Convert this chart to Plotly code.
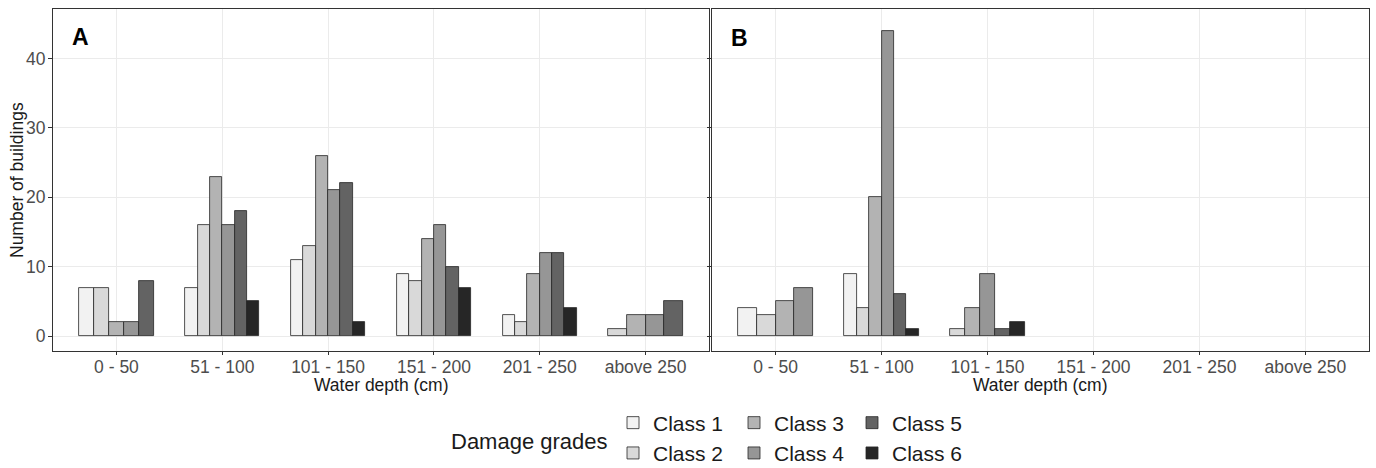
import plotly.graph_objects as go

categories = ["0 - 50", "51 - 100", "101 - 150", "151 - 200", "201 - 250", "above 250"]
classes = ["Class 1", "Class 2", "Class 3", "Class 4", "Class 5", "Class 6"]

# Panel A values per damage class (None = no bar)
a_class1 = [7, 7, 11, 9, 3, None]
a_class2 = [7, 16, 13, 8, 2, 1]
a_class3 = [2, 23, 26, 14, 9, 3]
a_class4 = [2, 16, 21, 16, 12, 3]
a_class5 = [8, 18, 22, 10, 12, 5]
a_class6 = [None, 5, 2, 7, 4, None]

# Panel B values per damage class
b_class1 = [4, 9, None, None, None, None]
b_class2 = [3, 4, 1, None, None, None]
b_class3 = [5, 20, 4, None, None, None]
b_class4 = [7, 44, 9, None, None, None]
b_class5 = [None, 6, 1, None, None, None]
b_class6 = [None, 1, 2, None, None, None]

fills = ["#f2f2f2", "#d9d9d9", "#b3b3b3", "#969696", "#636363", "#262626"]
legend_of = ["legend", "legend", "legend2", "legend2", "legend3", "legend3"]

panels = [
    ("x", "y", [a_class1, a_class2, a_class3, a_class4, a_class5, a_class6]),
    ("x2", "y2", [b_class1, b_class2, b_class3, b_class4, b_class5, b_class6]),
]

DODGE = 0.7
fig = go.Figure()
for pi, (xa, ya, series) in enumerate(panels):
    # dodge positions: present classes share the group width
    pos = {}
    for ci in range(len(categories)):
        present = [k for k in range(len(classes)) if series[k][ci] is not None]
        n = len(present)
        for j, k in enumerate(present):
            w = DODGE / n
            pos[(k, ci)] = (ci + 1 - DODGE / 2 + (j + 0.5) * w, w)
    for k, cls in enumerate(classes):
        xs, ys, ws = [], [], []
        for ci in range(len(categories)):
            v = series[k][ci]
            if v is None:
                continue
            x, w = pos[(k, ci)]
            xs.append(x)
            ys.append(v)
            ws.append(w)
        fig.add_trace(go.Bar(
            x=xs, y=ys, width=ws, name=cls,
            marker=dict(color=fills[k], line=dict(color="#262626", width=0.8)),
            xaxis=xa, yaxis=ya, legend=legend_of[k],
            legendgroup=cls, showlegend=(pi == 0),
        ))

L, R, T, B = 53, 7, 9, 117
W, H = 1376, 468
pw = W - L - R
ph = H - T - B
FONT = "Liberation Sans, Arial, sans-serif"
tick_font = dict(family=FONT, size=17.5, color="#4d4d4d")
title_font = dict(family=FONT, size=17.5, color="#1a1a1a")

xcommon = dict(
    range=[0.4, 6.6], tickmode="array", tickvals=list(range(1, 7)), ticktext=categories,
    showgrid=True, gridcolor="#ebebeb", gridwidth=1,
    showline=True, mirror=True, linecolor="#333333", linewidth=1,
    ticks="outside", ticklen=3, tickcolor="#333333", tickwidth=1,
    tickfont=tick_font, zeroline=False, automargin=False, ticklabelstandoff=-3,
)
ycommon = dict(
    range=[-2.15, 47.15], tickmode="array", tickvals=[0, 10, 20, 30, 40],
    showgrid=True, gridcolor="#ebebeb", gridwidth=1,
    showline=True, mirror=True, linecolor="#333333", linewidth=1,
    ticks="outside", ticklen=4, tickcolor="#333333", tickwidth=1,
    tickfont=tick_font, zeroline=False, domain=[0, 1], automargin=False,
)

xa_dom = [0, 656 / pw]
xb_dom = [659 / pw, 1]
fig.update_layout(
    width=W, height=H,
    margin=dict(l=L, r=R, t=T, b=B, autoexpand=False),
    plot_bgcolor="white", paper_bgcolor="white",
    barmode="overlay", bargap=0,
    font=dict(family=FONT),
    xaxis=dict(domain=xa_dom, anchor="y", **xcommon),
    xaxis2=dict(domain=xb_dom, anchor="y2", **xcommon),
    yaxis=dict(anchor="x", ticklabelstandoff=-1, **ycommon),
    yaxis2=dict(anchor="x2", matches="y", showticklabels=False, **ycommon),
)

# axis titles
for dom in (xa_dom, xb_dom):
    fig.add_annotation(text="Water depth (cm)", xref="paper", yref="paper",
                       x=(dom[0] + dom[1]) / 2, y=-(385 - (H - B)) / ph,
                       xanchor="center", yanchor="middle", showarrow=False, font=title_font)
fig.add_annotation(text="Number of buildings", xref="paper", yref="paper",
                   x=(17 - L) / pw, y=0.5, textangle=-90,
                   xanchor="center", yanchor="middle", showarrow=False, font=title_font)

leg_common = dict(
    orientation="v", yanchor="middle", xanchor="left", xref="container", yref="container",
    font=dict(family=FONT, size=21, color="#1a1a1a"),
    bgcolor="rgba(0,0,0,0)", tracegroupgap=0, itemclick=False, itemdoubleclick=False,
)
legy = 1 - 438 / H
fig.update_layout(
    legend=dict(x=613 / W, y=legy, **leg_common),
    legend2=dict(x=734 / W, y=legy, **leg_common),
    legend3=dict(x=852 / W, y=legy, **leg_common),
)

fig.add_annotation(text="Damage grades", xref="paper", yref="paper",
                   x=(529 - L) / pw, y=-(441 - (H - B)) / ph,
                   xanchor="center", yanchor="middle", showarrow=False,
                   font=dict(family=FONT, size=22, color="#1a1a1a"))

fig.add_annotation(text="<b>A</b>", xref="x", yref="y", x=0.66, y=43.1,
                   showarrow=False, xanchor="center", yanchor="middle",
                   font=dict(family=FONT, size=23, color="black"))
fig.add_annotation(text="<b>B</b>", xref="x2", yref="y2", x=0.66, y=43.0,
                   showarrow=False, xanchor="center", yanchor="middle",
                   font=dict(family=FONT, size=23, color="black"))

fig.write_html("out.html")
